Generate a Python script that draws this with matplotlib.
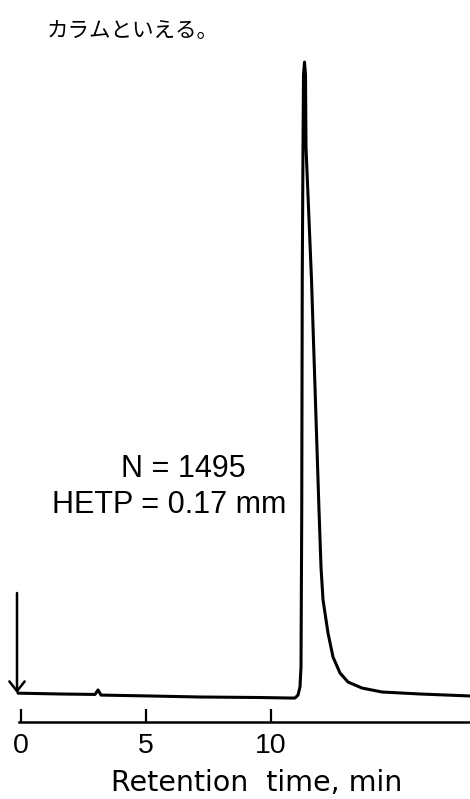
import matplotlib
matplotlib.use("Agg")
import matplotlib.pyplot as plt

# chromatogram trace (time in min, signal in arbitrary units)
time_min = [-0.10, 1.58, 2.98, 3.10, 3.22, 5.18, 7.18, 9.58, 10.78, 10.98,
            11.10, 11.18, 11.22, 11.25, 11.27, 11.30, 11.32, 11.36, 11.40, 11.42,
            11.64, 11.94, 12.02, 12.10, 12.30, 12.50, 12.78, 13.10, 13.66, 14.46,
            15.98, 17.98]
signal = [0.6, 0.47, 0.4, 1.1, 0.3, 0.16, 0.0, -0.08, -0.16, -0.16,
          0.3, 1.56, 4.7, 29.2, 65.2, 85.9, 97.2, 99.2, 97.2, 85.9,
          65.2, 29.2, 20.3, 15.2, 10.0, 6.25, 3.75, 2.34, 1.4, 0.78,
          0.47, 0.16]

ticks = [0, 5, 10]
tick_labels = ["0", "5", "10"]
injection_time = -0.14

W, H = 470, 799
fig = plt.figure(figsize=(W / 100, H / 100), dpi=100)
ax = fig.add_axes([19 / W, 77 / H, (W - 19) / W, 722 / H])
ax.set_xlim(-0.06, 17.98)
ax.set_ylim(-3.906, 108.9)

ax.plot(time_min, signal, color="black", lw=2.2, solid_joinstyle="round",
        solid_capstyle="round", clip_on=False)

# injection arrow
ax.annotate("", xy=(injection_time, 0.6), xytext=(injection_time, 16.25),
            arrowprops=dict(arrowstyle="->,head_length=0.7,head_width=0.55",
                            color="black", lw=1.8, mutation_scale=10,
                            shrinkA=0, shrinkB=0),
            annotation_clip=False)

for s in ["top", "right", "left"]:
    ax.spines[s].set_visible(False)
ax.spines["bottom"].set_linewidth(1.8)
ax.set_yticks([])
ax.set_xticks(ticks)
ax.set_xticklabels(tick_labels, fontfamily="Liberation Sans", fontsize=20.5)
ax.tick_params(axis="x", direction="in", length=9.5, width=1.6, pad=7.6)

fig.text(257 / W, (H - 791) / H, "Retention  time, min", ha="center",
         va="baseline", fontfamily="DejaVu Sans", fontsize=20.5)

fig.text(183.5 / W, (H - 477) / H, "N = 1495", ha="center", va="baseline",
         fontfamily="Liberation Sans", fontsize=22)
fig.text(52 / W, (H - 513) / H, "HETP = 0.17 mm", ha="left", va="baseline",
         fontfamily="Liberation Sans", fontsize=22)

fig.text(47 / W, (H - 31) / H, "カラムといえる。", ha="left", va="center",
         fontfamily=["Noto Sans CJK JP", "DejaVu Sans"], fontsize=15.5)

fig.savefig("out.png", dpi=100, facecolor="white")
